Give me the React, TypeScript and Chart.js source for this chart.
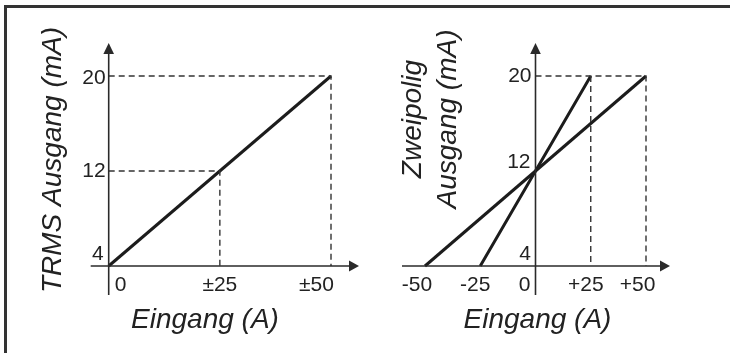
import React, { useEffect, useRef } from "react";
import { Chart, registerables } from "chart.js";

Chart.register(...registerables);

// ---- data ----
const leftLineX = [0, 50];
const leftLineY = [4, 20];
const rightWideX = [-50, 0, 50];
const rightWideY = [4, 12, 20];
const rightSteepX = [-25, 0, 25];
const rightSteepY = [4, 12, 20];

const leftGuideA_X = [0, 50, 50];
const leftGuideA_Y = [20, 20, 4];
const leftGuideB_X = [0, 25, 25];
const leftGuideB_Y = [12, 12, 4];
const rightGuideA_X = [0, 50, 50];
const rightGuideA_Y = [20, 20, 4];
const rightGuideB_X = [25, 25];
const rightGuideB_Y = [20, 4];

const leftXTickValues = [0, 25, 50];
const leftXTickLabels = ["0", "±25", "±50"];
const leftYTickValues = [4, 12, 20];
const leftYTickLabels = ["4", "12", "20"];
const rightXTickValues = [-50, -25, 0, 25, 50];
const rightXTickLabels = ["-50", "-25", "0", "+25", "+50"];
const rightYTickValues = [4, 12, 20];
const rightYTickLabels = ["4", "12", "20"];

const leftYTitle = ["TRMS Ausgang (mA)"];
const rightYTitle = ["Zweipolig", "Ausgang (mA)"];
const xTitle = "Eingang (A)";

// ---- layout / style (not data) ----
const LINE_COLOR = "#1c1c1c";
const AXIS_COLOR = "#2a2a2a";
const TEXT_COLOR = "#222";
const TICK_FONT = "21px 'Liberation Sans', Arial, sans-serif";
const TITLE_FONT = "italic 28px 'Liberation Sans', Arial, sans-serif";

const toPts = (xs: number[], ys: number[]) => xs.map((x, i) => ({ x, y: ys[i] }));

type PanelCfg = {
  xMin: number;
  xMax: number;
  padding: { left: number; right: number; top: number; bottom: number };
  lines: { xs: number[]; ys: number[] }[];
  guides: { xs: number[]; ys: number[] }[];
  xTicks: number[];
  xLabels: string[];
  xLabelDx: number[];
  xLabelAlign: CanvasTextAlign[];
  yTicks: number[];
  yLabels: string[];
  yLabelDx: number[];
  yLabelDy: number[];
  xAxisStart: number;
  xAxisEnd: number;
  yTitle: string[];
  yTitleBaselines: number[];
  yTitleCenterY: number;
  xTitleCenterX: number;
};

function axesPlugin(cfg: PanelCfg) {
  return {
    id: "customAxes",
    afterDatasetsDraw(chart: any) {
      const ctx: CanvasRenderingContext2D = chart.ctx;
      const xs = chart.scales.x;
      const ys = chart.scales.y;
      const x0 = xs.getPixelForValue(0);
      const yBase = ys.getPixelForValue(4);
      const yTop = ys.getPixelForValue(20);
      ctx.save();
      ctx.strokeStyle = AXIS_COLOR;
      ctx.fillStyle = AXIS_COLOR;
      ctx.lineWidth = 1.6;
      // y axis
      const arrowTipY = yTop - 33;
      ctx.beginPath();
      ctx.moveTo(x0, yBase + 29);
      ctx.lineTo(x0, arrowTipY + 8);
      ctx.stroke();
      ctx.beginPath();
      ctx.moveTo(x0, arrowTipY);
      ctx.lineTo(x0 - 5.3, arrowTipY + 11);
      ctx.lineTo(x0 + 5.3, arrowTipY + 11);
      ctx.closePath();
      ctx.fill();
      // x axis
      const xl = xs.getPixelForValue(cfg.xMin) - cfg.xAxisStart;
      const tipX = xs.getPixelForValue(cfg.xMax) + cfg.xAxisEnd;
      ctx.beginPath();
      ctx.moveTo(xl, yBase);
      ctx.lineTo(tipX - 8, yBase);
      ctx.stroke();
      ctx.beginPath();
      ctx.moveTo(tipX, yBase);
      ctx.lineTo(tipX - 10, yBase - 5.5);
      ctx.lineTo(tipX - 10, yBase + 5.5);
      ctx.closePath();
      ctx.fill();

      // tick labels
      ctx.fillStyle = TEXT_COLOR;
      ctx.font = TICK_FONT;
      ctx.textBaseline = "middle";
      cfg.xTicks.forEach((v, i) => {
        ctx.textAlign = cfg.xLabelAlign[i];
        ctx.fillText(cfg.xLabels[i], xs.getPixelForValue(v) + cfg.xLabelDx[i], yBase + 19);
      });
      ctx.textAlign = "right";
      cfg.yTicks.forEach((v, i) => {
        ctx.fillText(cfg.yLabels[i], x0 + cfg.yLabelDx[i], ys.getPixelForValue(v) + cfg.yLabelDy[i]);
      });

      // titles
      ctx.font = TITLE_FONT;
      ctx.textAlign = "center";
      ctx.textBaseline = "alphabetic";
      ctx.fillText(xTitle, cfg.xTitleCenterX, yBase + 62);
      cfg.yTitle.forEach((t, i) => {
        ctx.save();
        ctx.translate(cfg.yTitleBaselines[i], cfg.yTitleCenterY);
        ctx.rotate(-Math.PI / 2);
        ctx.fillText(t, 0, 0);
        ctx.restore();
      });
      ctx.restore();
    },
  };
}

function Panel({ cfg }: { cfg: PanelCfg }) {
  const ref = useRef<HTMLCanvasElement | null>(null);
  useEffect(() => {
    if (!ref.current) return;
    const datasets: any[] = [];
    cfg.guides.forEach((g) =>
      datasets.push({
        data: toPts(g.xs, g.ys),
        borderColor: "#333",
        borderWidth: 1.4,
        borderDash: [6, 4],
        pointRadius: 0,
        fill: false,
        clip: false,
        tension: 0,
      })
    );
    cfg.lines.forEach((l) =>
      datasets.push({
        data: toPts(l.xs, l.ys),
        borderColor: LINE_COLOR,
        borderWidth: 3,
        pointRadius: 0,
        fill: false,
        clip: false,
        tension: 0,
        borderCapStyle: "butt",
      })
    );
    const chart = new Chart(ref.current, {
      type: "line",
      data: { datasets },
      options: {
        animation: false,
        responsive: false,
        maintainAspectRatio: false,
        devicePixelRatio: 1,
        layout: { padding: cfg.padding },
        parsing: false as any,
        scales: {
          x: { type: "linear", min: cfg.xMin, max: cfg.xMax, display: false },
          y: { type: "linear", min: 4, max: 20, display: false },
        },
        plugins: { legend: { display: false }, tooltip: { enabled: false } },
      },
      plugins: [axesPlugin(cfg)],
    });
    return () => chart.destroy();
  }, [cfg]);
  return <canvas ref={ref} width={365} height={353} style={{ width: 365, height: 353, display: "block" }} />;
}

const leftCfg: PanelCfg = {
  xMin: 0,
  xMax: 50,
  padding: { left: 108.7, right: 34, top: 76, bottom: 87 },
  lines: [{ xs: leftLineX, ys: leftLineY }],
  guides: [
    { xs: leftGuideA_X, ys: leftGuideA_Y },
    { xs: leftGuideB_X, ys: leftGuideB_Y },
  ],
  xTicks: leftXTickValues,
  xLabels: leftXTickLabels,
  xLabelDx: [6, 0, -14.5],
  xLabelAlign: ["left", "center", "center"],
  yTicks: leftYTickValues,
  yLabels: leftYTickLabels,
  yLabelDx: [-5, -3, -3],
  yLabelDy: [-12, 0, 2],
  xAxisStart: 18,
  xAxisEnd: 28,
  yTitle: leftYTitle,
  yTitleBaselines: [61],
  yTitleCenterY: 160,
  xTitleCenterX: 205,
};

const rightCfg: PanelCfg = {
  xMin: -50,
  xMax: 50,
  padding: { left: 60, right: 84, top: 76, bottom: 87 },
  lines: [
    { xs: rightWideX, ys: rightWideY },
    { xs: rightSteepX, ys: rightSteepY },
  ],
  guides: [
    { xs: rightGuideA_X, ys: rightGuideA_Y },
    { xs: rightGuideB_X, ys: rightGuideB_Y },
  ],
  xTicks: rightXTickValues,
  xLabels: rightXTickLabels,
  xLabelDx: [-8, -5, -5, -5, -8.5],
  xLabelAlign: ["center", "center", "right", "center", "center"],
  yTicks: rightYTickValues,
  yLabels: rightYTickLabels,
  yLabelDx: [-4.5, -5, -4],
  yLabelDy: [-12, -9, 0.5],
  xAxisStart: 23,
  xAxisEnd: 24,
  yTitle: rightYTitle,
  yTitleBaselines: [55.5, 91],
  yTitleCenterY: 119,
  xTitleCenterX: 172.5,
};

export default function App() {
  return (
    <div
      style={{
        position: "absolute",
        left: 0,
        top: 0,
        width: 730,
        height: 353,
        background: "#fff",
        overflow: "hidden",
      }}
    >
      <div
        style={{
          position: "absolute",
          left: 4,
          top: 5,
          right: -10,
          bottom: -10,
          borderTop: "3px solid #333",
          borderLeft: "3px solid #333",
        }}
      />
      <div style={{ position: "absolute", left: 0, top: 0 }}>
        <Panel cfg={leftCfg} />
      </div>
      <div style={{ position: "absolute", left: 365, top: 0 }}>
        <Panel cfg={rightCfg} />
      </div>
    </div>
  );
}
